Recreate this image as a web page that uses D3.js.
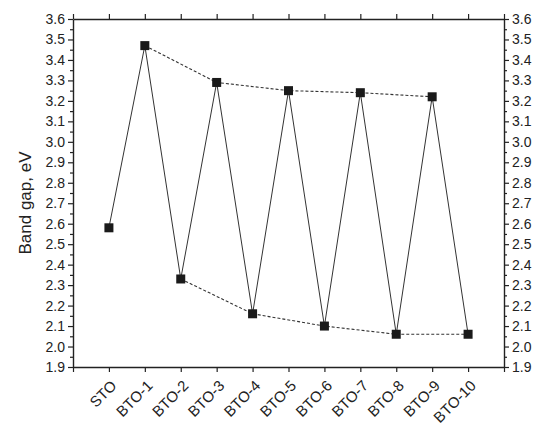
<!DOCTYPE html>
<html>
<head>
<meta charset="utf-8">
<script src="https://cdn.jsdelivr.net/npm/d3@7"></script>
<style>
  body { margin: 0; background: #fff; }
  svg { display: block; }
  text { font-family: "Liberation Sans", Arial, sans-serif; fill: #222; }
</style>
</head>
<body>
<svg id="chart" width="550" height="426"></svg>
<script>
const categories = ["STO","BTO-1","BTO-2","BTO-3","BTO-4","BTO-5","BTO-6","BTO-7","BTO-8","BTO-9","BTO-10"];
const bandGap = [2.58, 3.47, 2.33, 3.29, 2.16, 3.25, 2.10, 3.24, 2.06, 3.22, 2.06];
const upperEnvelope = ["BTO-1","BTO-3","BTO-5","BTO-7","BTO-9"];
const lowerEnvelope = ["BTO-2","BTO-4","BTO-6","BTO-8","BTO-10"];
const yTicks = [1.9,2.0,2.1,2.2,2.3,2.4,2.5,2.6,2.7,2.8,2.9,3.0,3.1,3.2,3.3,3.4,3.5,3.6];
const yLabel = "Band gap, eV";

const svg = d3.select("#chart");
const m = {left: 73, right: 46, top: 19, bottom: 59};
const W = 550, H = 426;
const iw = W - m.left - m.right, ih = H - m.top - m.bottom;

const x = d3.scaleLinear().domain([0, categories.length + 1]).range([m.left, m.left + iw]);
const y = d3.scaleLinear().domain([1.9, 3.6]).range([m.top + ih, m.top]);
const xi = c => x(categories.indexOf(c) + 1);

const data = categories.map((c, i) => ({c, v: bandGap[i]}));
const lookup = new Map(data.map(d => [d.c, d.v]));

const axisColor = "#222";
const xTickVals = d3.range(0, categories.length + 2);
const minorY = d3.range(0, 17).map(i => +(1.95 + i * 0.1).toFixed(2));

function styleAxis(g) {
  g.selectAll("path.domain").attr("stroke", axisColor).attr("stroke-width", 1.4);
  g.selectAll(".tick line").attr("stroke", axisColor).attr("stroke-width", 1.2);
  g.selectAll("text").style("font-size", "14px").attr("fill", "#2a2a2a");
}

// bottom axis
const gb = svg.append("g").attr("transform", `translate(0,${m.top + ih})`)
  .call(d3.axisBottom(x).tickValues(xTickVals).tickSize(5).tickSizeOuter(0).tickFormat(() => ""));
styleAxis(gb);
// top axis
const gt = svg.append("g").attr("transform", `translate(0,${m.top})`)
  .call(d3.axisTop(x).tickValues(xTickVals).tickSize(5).tickSizeOuter(0).tickFormat(() => ""));
styleAxis(gt);
// left axis
const gl = svg.append("g").attr("transform", `translate(${m.left},0)`)
  .call(d3.axisLeft(y).tickValues(yTicks).tickSize(5).tickSizeOuter(0).tickPadding(3).tickFormat(d3.format(".1f")));
styleAxis(gl);
const glm = svg.append("g").attr("transform", `translate(${m.left},0)`)
  .call(d3.axisLeft(y).tickValues(minorY).tickSize(3).tickSizeOuter(0).tickFormat(() => ""));
styleAxis(glm); glm.select("path.domain").remove();
// right axis
const gr = svg.append("g").attr("transform", `translate(${m.left + iw},0)`)
  .call(d3.axisRight(y).tickValues(yTicks).tickSize(5).tickSizeOuter(0).tickPadding(3).tickFormat(d3.format(".1f")));
styleAxis(gr);
const grm = svg.append("g").attr("transform", `translate(${m.left + iw},0)`)
  .call(d3.axisRight(y).tickValues(minorY).tickSize(3).tickSizeOuter(0).tickFormat(() => ""));
styleAxis(grm); grm.select("path.domain").remove();

// x category labels rotated
svg.append("g").selectAll("text").data(categories).join("text")
  .attr("transform", c => `translate(${xi(c) + 5},${m.top + ih + 16}) rotate(-45)`)
  .attr("text-anchor", "end")
  .attr("dy", "0.35em")
  .style("font-size", "15px")
  .attr("fill", "#2a2a2a")
  .text(c => c);

// y label
svg.append("text")
  .attr("transform", `translate(31,${(m.top + m.top + ih) / 2 + 10}) rotate(-90)`)
  .attr("text-anchor", "middle")
  .style("font-size", "17px")
  .attr("fill", "#2a2a2a")
  .text(yLabel);

// main solid line
const line = d3.line().x(d => xi(d.c)).y(d => y(d.v));
svg.append("path").datum(data).attr("d", line)
  .attr("fill", "none").attr("stroke", "#333").attr("stroke-width", 1);

// dashed envelopes
[upperEnvelope, lowerEnvelope].forEach(env => {
  const pts = env.map(c => ({c, v: lookup.get(c)}));
  svg.append("path").datum(pts).attr("d", line)
    .attr("fill", "none").attr("stroke", "#333").attr("stroke-width", 1.1)
    .attr("stroke-dasharray", "3,2");
});

// markers
const s = 9;
svg.append("g").selectAll("rect").data(data).join("rect")
  .attr("x", d => xi(d.c) - s / 2).attr("y", d => y(d.v) - s / 2)
  .attr("width", s).attr("height", s)
  .attr("fill", "#1a1a1a");
</script>
</body>
</html>
